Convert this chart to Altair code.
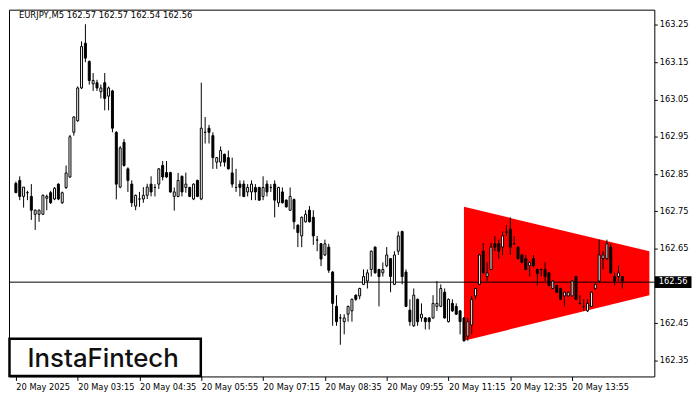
import json
import altair as alt
import pandas as pd

# ---------------- data ----------------
opens = [162.825, 162.833, 162.79, 162.80, 162.79, 162.742, 162.742, 162.742, 162.785, 162.80,
         162.783, 162.823, 162.773, 162.814, 162.842, 162.962, 162.993, 163.081, 163.201, 163.152,
         163.092, 163.095, 163.071, 163.095, 163.059, 163.073, 162.962, 162.815, 162.935, 162.864,
         162.823, 162.764, 162.783, 162.783, 162.793, 162.823, 162.814, 162.823, 162.873, 162.854,
         162.854, 162.79, 162.79, 162.844, 162.814, 162.814, 162.783, 162.833, 162.783, 162.962,
         162.973, 162.953, 162.882, 162.882, 162.903, 162.894, 162.853, 162.814, 162.823, 162.823,
         162.802, 162.802, 162.814, 162.814, 162.79, 162.823, 162.814, 162.823, 162.773, 162.802,
         162.78, 162.753, 162.782, 162.713, 162.684, 162.722, 162.753, 162.734, 162.673, 162.663,
         162.633, 162.654, 162.587, 162.495, 162.464, 162.454, 162.474, 162.483, 162.525, 162.523,
         162.554, 162.563, 162.594, 162.654, 162.594, 162.585, 162.604, 162.623, 162.554, 162.643,
         162.696, 162.587, 162.485, 162.443, 162.514, 162.464, 162.464, 162.464, 162.464, 162.495,
         162.495, 162.533, 162.454, 162.503, 162.495, 162.483, 162.464, 162.415, 162.445, 162.523,
         162.554, 162.643, 162.575, 162.594, 162.663, 162.663, 162.654, 162.694, 162.702, 162.663,
         162.654, 162.633, 162.623, 162.604, 162.623, 162.594, 162.594, 162.594, 162.585, 162.543,
         162.551, 162.543, 162.523, 162.523, 162.523, 162.575, 162.503, 162.495, 162.483, 162.495,
         162.543, 162.563, 162.623, 162.623, 162.654, 162.575, 162.575, 162.575]
highs = [162.83, 162.844, 162.815, 162.805, 162.823, 162.755, 162.755, 162.795, 162.795, 162.805,
         162.815, 162.825, 162.803, 162.873, 162.955, 163.005, 163.085, 163.206, 163.252, 163.155,
         163.121, 163.103, 163.09, 163.121, 163.085, 163.076, 162.965, 162.925, 162.944, 162.868,
         162.833, 162.795, 162.802, 162.815, 162.824, 162.844, 162.823, 162.866, 162.885, 162.885,
         162.856, 162.814, 162.853, 162.846, 162.854, 162.816, 162.825, 162.835, 163.095, 163.003,
         162.982, 162.962, 162.896, 162.924, 162.905, 162.913, 162.894, 162.864, 162.833, 162.833,
         162.823, 162.833, 162.823, 162.816, 162.844, 162.833, 162.823, 162.833, 162.816, 162.814,
         162.782, 162.814, 162.784, 162.715, 162.736, 162.753, 162.764, 162.753, 162.684, 162.665,
         162.674, 162.663, 162.59, 162.525, 162.474, 162.474, 162.497, 162.516, 162.527, 162.545,
         162.594, 162.594, 162.645, 162.656, 162.596, 162.613, 162.654, 162.625, 162.643, 162.696,
         162.698, 162.594, 162.514, 162.543, 162.516, 162.503, 162.466, 162.466, 162.525, 162.563,
         162.554, 162.543, 162.516, 162.514, 162.503, 162.485, 162.466, 162.464, 162.523, 162.545,
         162.636, 162.665, 162.613, 162.665, 162.684, 162.674, 162.696, 162.713, 162.734, 162.684,
         162.656, 162.635, 162.633, 162.616, 162.633, 162.596, 162.596, 162.613, 162.587, 162.565,
         162.553, 162.545, 162.535, 162.535, 162.565, 162.577, 162.525, 162.514, 162.514, 162.535,
         162.556, 162.674, 162.643, 162.674, 162.663, 162.585, 162.604, 162.575]
lows = [162.80, 162.78, 162.76, 162.78, 162.727, 162.70, 162.722, 162.74, 162.753, 162.77,
        162.78, 162.78, 162.77, 162.81, 162.84, 162.953, 162.99, 163.078, 163.15, 163.09,
        163.073, 163.073, 163.053, 163.021, 163.021, 162.962, 162.782, 162.812, 162.87, 162.802,
        162.762, 162.753, 162.762, 162.773, 162.783, 162.79, 162.79, 162.81, 162.833, 162.84,
        162.80, 162.752, 162.788, 162.79, 162.80, 162.788, 162.78, 162.788, 162.78, 162.932,
        162.932, 162.864, 162.864, 162.87, 162.87, 162.862, 162.814, 162.802, 162.79, 162.788,
        162.79, 162.78, 162.78, 162.778, 162.78, 162.79, 162.802, 162.734, 162.762, 162.771,
        162.76, 162.751, 162.702, 162.654, 162.654, 162.72, 162.72, 162.66, 162.643, 162.603,
        162.63, 162.585, 162.443, 162.443, 162.392, 162.42, 162.454, 162.454, 162.51, 162.514,
        162.552, 162.543, 162.575, 162.583, 162.495, 162.575, 162.60, 162.533, 162.552, 162.633,
        162.554, 162.493, 162.443, 162.44, 162.443, 162.454, 162.433, 162.433, 162.462, 162.483,
        162.493, 162.462, 162.452, 162.48, 162.472, 162.42, 162.40, 162.403, 162.42, 162.514,
        162.552, 162.583, 162.563, 162.592, 162.643, 162.623, 162.633, 162.684, 162.633, 162.66,
        162.62, 162.61, 162.592, 162.575, 162.60, 162.551, 162.575, 162.563, 162.549, 162.541,
        162.531, 162.512, 162.495, 162.52, 162.52, 162.512, 162.50, 162.483, 162.48, 162.493,
        162.54, 162.56, 162.594, 162.62, 162.583, 162.551, 162.563, 162.543]
closes = [162.80, 162.79, 162.815, 162.80, 162.753, 162.753, 162.753, 162.793, 162.79, 162.773,
          162.812, 162.783, 162.80, 162.853, 162.95, 163.003, 163.081, 163.192, 163.161, 163.101,
          163.101, 163.081, 163.081, 163.053, 163.081, 162.973, 162.823, 162.92, 162.873, 162.833,
          162.773, 162.793, 162.783, 162.793, 162.815, 162.802, 162.814, 162.864, 162.842, 162.842,
          162.802, 162.802, 162.833, 162.802, 162.823, 162.79, 162.823, 162.79, 162.973, 162.962,
          162.962, 162.894, 162.894, 162.913, 162.882, 162.864, 162.823, 162.814, 162.814, 162.79,
          162.814, 162.823, 162.802, 162.78, 162.814, 162.802, 162.814, 162.78, 162.814, 162.773,
          162.762, 162.79, 162.722, 162.693, 162.734, 162.742, 162.722, 162.684, 162.673, 162.622,
          162.663, 162.592, 162.503, 162.454, 162.464, 162.464, 162.495, 162.514, 162.514, 162.543,
          162.575, 162.585, 162.643, 162.585, 162.575, 162.594, 162.633, 162.575, 162.633, 162.684,
          162.575, 162.495, 162.454, 162.525, 162.454, 162.474, 162.454, 162.454, 162.503, 162.503,
          162.543, 162.464, 162.514, 162.483, 162.474, 162.454, 162.403, 162.454, 162.514, 162.543,
          162.633, 162.585, 162.585, 162.654, 162.654, 162.643, 162.684, 162.694, 162.654, 162.663,
          162.623, 162.613, 162.594, 162.613, 162.604, 162.583, 162.594, 162.575, 162.551, 162.563,
          162.533, 162.514, 162.533, 162.533, 162.563, 162.514, 162.503, 162.495, 162.503, 162.533,
          162.554, 162.633, 162.633, 162.663, 162.585, 162.563, 162.585, 162.563]

tick_index = [0, 16, 32, 48, 64, 80, 96, 112, 128, 144]
tick_labels = ["20 May 2025", "20 May 03:15", "20 May 04:35", "20 May 05:55", "20 May 07:15",
               "20 May 08:35", "20 May 09:55", "20 May 11:15", "20 May 12:35", "20 May 13:55"]
price_ticks = [162.35, 162.45, 162.55, 162.65, 162.75, 162.85, 162.95, 163.05, 163.15, 163.25]

tri_index = [116, 164]
tri_top = [162.762, 162.643]
tri_bottom = [162.403, 162.525]

last_price = 162.56
last_label = "162.56"
header_text = "EURJPY,M5  162.57 162.57 162.54 162.56"
logo_text = "InstaFintech"

# ---------------- tables ----------------
candles = pd.DataFrame({
    "i": list(range(len(opens))),
    "open": opens, "high": highs, "low": lows, "close": closes,
})
candles["up"] = candles["close"] >= candles["open"]
tri = pd.DataFrame({"i": tri_index, "top": tri_top, "bottom": tri_bottom})
ann = pd.DataFrame({"label": [last_label], "header": [header_text], "logo": [logo_text], "p": [last_price]})

FONT = "DejaVu Sans"
xscale = alt.Scale(domain=[-0.5, 164], nice=False, zero=False)
yscale = alt.Scale(domain=[162.307, 163.291], nice=False, zero=False)
label_expr = json.dumps(tick_labels) + "[round(datum.value / 16)]"
xaxis = alt.Axis(values=tick_index, labelExpr=label_expr, title=None, grid=False, domain=False,
                 tickSize=4, tickColor="black", labelAlign="left", labelPadding=2,
                 labelFont=FONT, labelFontSize=8.3, labelColor="black", labelOverlap=False,
                 labelFlush=False, zindex=0)
yaxis = alt.Axis(orient="right", values=price_ticks, format=".2f", title=None, grid=False,
                 domain=False, tickSize=3, tickColor="black", labelPadding=2,
                 labelFont=FONT, labelFontSize=8.3, labelColor="black", labelOverlap=False,
                 zindex=0)

def X(field):
    return alt.X(field, type="quantitative", scale=xscale, axis=xaxis)

def Y(field):
    return alt.Y(field, type="quantitative", scale=yscale, axis=yaxis)

triangle = alt.Chart(tri).mark_area(color="#ff0000", opacity=1, clip=True).encode(
    x=X("i"), y=Y("top"), y2="bottom")

price_line = alt.Chart(ann).mark_rule(color="black", strokeWidth=1).encode(y=Y("p"))

wicks = alt.Chart(candles).mark_rule(color="black", strokeWidth=1).encode(
    x=X("i"), y=Y("low"), y2="high")

bodies = alt.Chart(candles).mark_bar(size=2, stroke="black", strokeWidth=1).encode(
    x=X("i"), y=Y("open"), y2="close",
    fill=alt.condition("datum.up", alt.value("white"), alt.value("black")))

price_box = alt.Chart(ann).mark_tick(color="black", thickness=12, size=37, opacity=1).encode(
    x=alt.value(670), y=Y("p"))

price_text = alt.Chart(ann).mark_text(color="white", font=FONT, fontSize=8.3, align="center",
                                      baseline="middle").encode(
    x=alt.value(670), y=Y("p"), text="label:N")

header = alt.Chart(ann).mark_text(color="black", font=FONT, fontSize=8.5, align="left",
                                  baseline="top").encode(
    x=alt.value(10), y=alt.value(1), text="header:N")

logo_box = alt.Chart(ann).mark_rect(fill="white", stroke="black", strokeWidth=2.5).encode(
    x=alt.value(0.5), x2=alt.value(193.5), y=alt.value(332), y2=alt.value(369.5))

logo = alt.Chart(ann).mark_text(color="#111111", font="Inter", fontWeight=500, fontSize=26,
                                align="center", baseline="alphabetic").encode(
    x=alt.value(95), y=alt.value(360), text="logo:N")

chart = alt.layer(triangle, price_line, wicks, bodies, price_box, price_text, header,
                  logo_box, logo).properties(
    width=651, height=370, padding=0, background="white"
).configure_view(stroke="black", strokeWidth=1).configure_axis(labelFont=FONT)

chart.save("out.html", embed_options={"renderer": "svg", "actions": False})
